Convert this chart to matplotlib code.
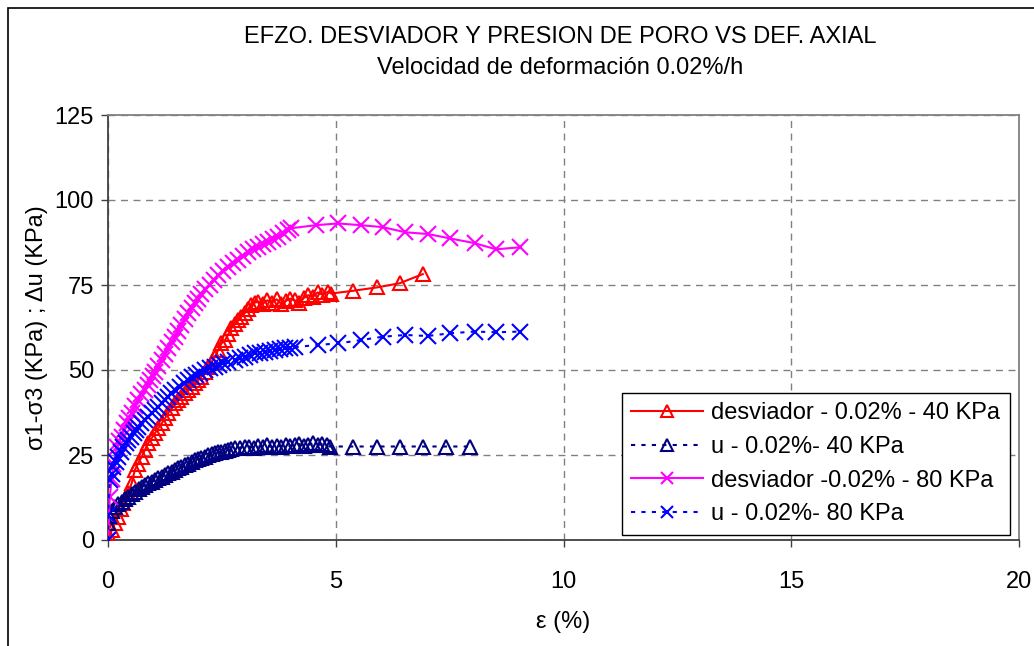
import matplotlib
matplotlib.use("Agg")
import matplotlib.pyplot as plt
from matplotlib.patches import Rectangle

plt.rcParams['font.family'] = ['Liberation Sans', 'DejaVu Sans']

# ---------------- data ----------------
d40_x = [0, 0.04, 0.08, 0.15, 0.23, 0.28, 0.34, 0.43, 0.52, 0.59, 0.66, 0.74, 0.81, 0.88, 0.96,
         1.03, 1.1, 1.18, 1.25, 1.32, 1.4, 1.47, 1.54, 1.61, 1.69, 1.76, 1.84, 1.91, 1.98, 2.05,
         2.13, 2.2, 2.28, 2.35, 2.42, 2.49, 2.57, 2.64, 2.71, 2.79, 2.86, 2.93, 3.0, 3.08, 3.15,
         3.22, 3.3, 3.4, 3.5, 3.6, 3.7, 3.8, 3.9, 4.0, 4.1, 4.2, 4.3, 4.4, 4.5, 4.6, 4.7, 4.83,
         4.9, 5.38, 5.91, 6.4, 6.91]
d40_y = [0, 0.5, 3, 5, 6.9, 9, 10.8, 13.7, 16.7, 20.6, 22.5, 24.5, 26.5, 28.4, 30,
         31.4, 32.8, 34.3, 35.8, 37.3, 38.8, 40.2, 41.2, 42.2, 43.2, 44.1, 45.1, 46.1, 47, 48,
         49.5, 51, 52.5, 53.9, 55.9, 57.8, 58.8, 60.5, 62.3, 63.5, 64.7, 65.7, 66.7, 68, 69.1,
         69.8, 70.1, 69.5, 70.5, 69.8, 70.8, 69.5, 70.3, 71, 70.5, 69.8, 71.2, 72, 71.5, 72.8, 72.2, 73,
         72.5, 73.3, 74.3, 75.5, 78.2]

u40_x = [0, 0.02, 0.08, 0.15, 0.22, 0.3, 0.37, 0.45, 0.52, 0.59, 0.67, 0.74, 0.81, 0.88, 0.96,
         1.03, 1.1, 1.18, 1.25, 1.32, 1.4, 1.47, 1.54, 1.61, 1.69, 1.76, 1.84, 1.91, 1.98, 2.05,
         2.13, 2.2, 2.28, 2.35, 2.42, 2.49, 2.57, 2.64, 2.71, 2.79, 2.9, 3.0, 3.1, 3.2, 3.3, 3.4,
         3.5, 3.6, 3.7, 3.8, 3.9, 4.0, 4.1, 4.2, 4.3, 4.4, 4.5, 4.6, 4.7, 4.8, 4.87,
         5.38, 5.91, 6.4, 6.91, 7.42, 7.94]
u40_y = [5, 7, 8.5, 9.8, 10.5, 11.3, 12, 12.7, 13.5, 14.2, 15, 15.7, 16.2, 16.7, 17.2,
         17.6, 18.1, 18.6, 19.1, 19.6, 20.1, 20.6, 21.1, 21.6, 22, 22.5, 23, 23.5, 23.8, 24,
         24.5, 25, 25.2, 25.5, 25.8, 26, 26.2, 26.5, 26.8, 27, 27.2, 27.3, 27.5, 27.2, 27.6, 27.4,
         27.8, 27.3, 27.7, 27.5, 28, 27.6, 27.9, 28.2, 27.6, 28, 28.4, 27.9, 28.2, 27.8, 27.5,
         27.5, 27.5, 27.5, 27.5, 27.5, 27.5]

d80_x = [0, 0.04, 0.08, 0.12, 0.19, 0.25, 0.3, 0.36, 0.41, 0.47, 0.52, 0.59, 0.66, 0.73, 0.81,
         0.87, 0.92, 0.98, 1.03, 1.1, 1.18, 1.25, 1.32, 1.4, 1.47, 1.54, 1.61, 1.69, 1.76, 1.84,
         1.91, 1.98, 2.05, 2.14, 2.24, 2.33, 2.42, 2.53, 2.64, 2.75, 2.86, 2.97, 3.08, 3.19, 3.3,
         3.4, 3.51, 3.62, 3.73, 3.85, 3.95, 4.02, 4.57, 5.05, 5.55, 6.04, 6.53, 7.02, 7.51, 8.05,
         8.52, 9.05]
d80_y = [0, 12.7, 18, 22.5, 27.5, 29, 30.4, 32.5, 34.3, 36, 37.3, 39.3, 41.2, 42.8, 44.1,
         45.7, 47, 48.2, 49.5, 51.2, 52.9, 54.6, 56.4, 58.2, 59.8, 61.5, 63.2, 65, 66.7, 68.2,
         69.6, 71, 72.5, 73.8, 75, 76.5, 77.9, 79.2, 80.4, 81.5, 82.4, 83.6, 84.8, 85.6, 86.3,
         87, 87.7, 88.5, 89.2, 90.2, 91.2, 91.7, 92.6, 93.1, 92.6, 92, 90.5, 90, 88.7, 87.3,
         85.5, 86.1]

u80_x = [0, 0, 0.04, 0.08, 0.12, 0.17, 0.23, 0.28, 0.34, 0.4, 0.45, 0.5, 0.56, 0.61, 0.66,
         0.73, 0.81, 0.88, 0.96, 1.03, 1.1, 1.18, 1.25, 1.32, 1.39, 1.48, 1.58, 1.67, 1.76, 1.85,
         1.94, 2.03, 2.13, 2.24, 2.35, 2.44, 2.53, 2.64, 2.79, 2.9, 3.0, 3.11, 3.22, 3.33, 3.44,
         3.55, 3.66, 3.77, 3.88, 4.0, 4.1, 4.61, 5.05, 5.55, 6.04, 6.53, 7.02, 7.51, 8.05, 8.52,
         9.05]
u80_y = [0, 7.5, 17.6, 19.5, 21.6, 23, 24.5, 26, 27.5, 28.5, 29.4, 30.4, 31.4, 32.4, 33.3,
         34.3, 35.3, 36.3, 37.3, 38.2, 39.2, 40.2, 41.2, 42.2, 43.1, 44.1, 45.1, 46.1, 47.1, 47.8,
         48.5, 49.2, 50, 50.5, 51, 51.5, 52, 52.3, 52.9, 53.4, 53.9, 54.4, 54.9, 55.1, 55.4,
         55.7, 55.9, 56.2, 56.4, 56.5, 56.7, 57.4, 57.8, 58.8, 59.8, 60.3, 60, 60.8, 61.3, 61.1,
         61.3]

labels = ["desviador - 0.02% - 40 KPa", "u - 0.02%- 40 KPa",
          "desviador -0.02% - 80 KPa", "u - 0.02%- 80 KPa"]
x_ticks = [0, 5, 10, 15, 20]
y_ticks = [0, 25, 50, 75, 100, 125]

FS = 17

# ---------------- figure ----------------
fig = plt.figure(figsize=(10.34, 6.46), dpi=100)
ax = fig.add_axes([108/1034, 106/646, 911/1034, 425/646])

# outer figure border (left & top visible)
fig.patches.append(Rectangle((8/1034, -0.05), 1.2, (646-8)/646 + 0.05,
                             transform=fig.transFigure, fill=False,
                             edgecolor='black', linewidth=1.2, clip_on=False))

ms_t = 10
ms_x = 11
ax.plot(d40_x, d40_y, color='#FF0000', lw=1.5, marker='^', ms=ms_t,
        mfc='none', mec='#FF0000', mew=1.5, label=labels[0], zorder=3)
ax.plot(u40_x, u40_y, color='#000080', lw=1.5, ls=(0, (2, 3)), marker='^', ms=ms_t,
        mfc='none', mec='#000080', mew=1.5, label=labels[1], zorder=3)
ax.plot(d80_x, d80_y, color='#FF00FF', lw=1.5, marker='x', ms=ms_x,
        mec='#FF00FF', mew=1.5, label=labels[2], zorder=3)
ax.plot(u80_x, u80_y, color='#0000FF', lw=1.5, ls=(0, (2, 3)), marker='x', ms=ms_x,
        mec='#0000FF', mew=1.5, label=labels[3], zorder=3)

ax.set_xlim(0, 20)
ax.set_ylim(0, 125)
ax.set_xticks(x_ticks)
ax.set_yticks(y_ticks)
ax.tick_params(axis='both', direction='out', length=5, width=1, labelsize=FS,
               color='#404040')
ax.tick_params(axis='x', pad=17)
ax.tick_params(axis='y', pad=5)
ax.grid(True, color='#808080', linestyle=(0, (5, 4)), linewidth=1)
ax.set_axisbelow(True)

for s in ['left', 'bottom']:
    ax.spines[s].set_color('#404040')
    ax.spines[s].set_linewidth(1.3)
for s in ['top', 'right']:
    ax.spines[s].set_color('#808080')
    ax.spines[s].set_linewidth(1.3)

ax.set_xlabel('ε (%)', fontsize=FS, labelpad=13)
ax.set_ylabel('σ1-σ3 (KPa) ; Δu (KPa)', fontsize=FS, labelpad=5)

fig.text(560/1034, 1 - 37/646, 'EFZO. DESVIADOR Y PRESION DE PORO VS DEF. AXIAL',
         ha='center', va='center', fontsize=FS)
fig.text(560/1034, 1 - 68/646, 'Velocidad de deformación 0.02%/h',
         ha='center', va='center', fontsize=FS)

leg = ax.legend(loc='lower right', bbox_to_anchor=(0.990, 0.012), fontsize=FS,
                handlelength=3.05, handletextpad=0.35, labelspacing=0.5,
                frameon=True, fancybox=False, framealpha=1, borderpad=0.4,
                borderaxespad=0, markerscale=0.8)
leg.get_frame().set_edgecolor('black')
leg.get_frame().set_linewidth(1.0)

fig.savefig('out.png', dpi=100)
